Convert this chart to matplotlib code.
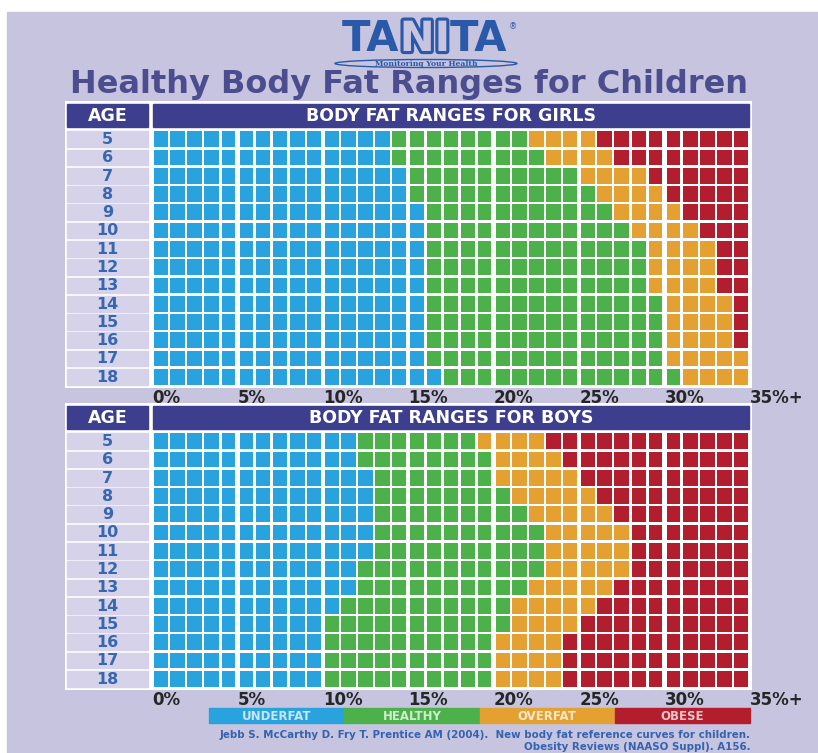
import matplotlib.pyplot as plt
import matplotlib.patheffects as pe
from matplotlib.patches import Rectangle, Ellipse

ages = list(range(5, 19))

# upper edge (% body fat) of each band, one value per age 5..18
girls_underfat = [14, 14, 15, 15, 16, 16, 16, 16, 16, 16, 16, 16, 16, 17]
girls_healthy = [22, 23, 25, 26, 27, 28, 29, 29, 29, 30, 30, 30, 30, 31]
girls_overfat = [26, 27, 29, 30, 31, 32, 33, 33, 33, 34, 34, 34, 35, 35]

boys_underfat = [12, 12, 13, 13, 13, 13, 13, 12, 12, 11, 10, 10, 10, 10]
boys_healthy = [19, 20, 20, 21, 22, 23, 23, 23, 22, 21, 21, 20, 20, 20]
boys_overfat = [23, 24, 25, 26, 27, 28, 28, 28, 27, 26, 25, 24, 24, 24]

max_pct = 35
tick_values = [0, 5, 10, 15, 20, 25, 30, 35]
tick_labels = ['0%', '5%', '10%', '15%', '20%', '25%', '30%', '35%+']

categories = ['UNDERFAT', 'HEALTHY', 'OVERFAT', 'OBESE']
cat_colors = ['#29a3dd', '#4db14b', '#e4a131', '#b31e2e']

LAV = '#c7c4e0'
AGE_BG = '#d5d2ea'
NAVY = '#3d3f8e'
AGE_TXT = '#3767b1'
TITLE = '#4c4d8e'
LOGO = '#2a59a9'

W, H = 818, 753
fig = plt.figure(figsize=(W / 100, H / 100), dpi=100)
fig.patch.set_facecolor('white')

# background layer in pixel units
bg = fig.add_axes([0, 0, 1, 1])
bg.set_xlim(0, W)
bg.set_ylim(H, 0)
bg.axis('off')
bg.add_patch(Rectangle((7, 12), W - 7, H - 12, color=LAV, zorder=0))

# logo: TA + hollow NI + TA
renderer = fig.canvas.get_renderer()
parts = []
for s, hollow in [('TA', False), ('NI', True), ('TA', False)]:
    t = bg.text(0, 39, s, ha='left', va='center', family='DejaVu Sans',
                weight='bold', size=30, color=LOGO)
    if hollow:
        t.set_color(LAV)
        t.set_path_effects([pe.Stroke(linewidth=4.5, foreground=LOGO), pe.Normal()])
    parts.append(t)
widths = [t.get_window_extent(renderer).width for t in parts]
x = 425 - sum(widths) / 2
for t, w in zip(parts, widths):
    t.set_x(x)
    x += w
bg.text(x + 1, 27, '®', size=6, color=LOGO, ha='left', va='center')
bg.add_patch(Ellipse((426, 63.5), 182, 8, fill=False, ec=LOGO, lw=1))
bg.text(426, 63.5, 'Monitoring Your Health', ha='center', va='center',
        family='DejaVu Serif', weight='bold', size=5.5, color=LOGO)

bg.text(409, 84, 'Healthy Body Fat Ranges for Children', ha='center',
        va='center', size=23, weight='bold', color=TITLE)


def draw_panel(top, heading, under, healthy, over):
    ax = fig.add_axes([65 / W, 1 - (top + 287) / H, 687 / W, 287 / H])
    ax.set_xlim(-5.092, 35.118)
    ax.set_ylim(18.609, 2.914)
    ax.set_facecolor('white')
    for s in ax.spines.values():
        s.set_visible(False)
    ax.set_yticks([])
    ax.set_xticks(tick_values, tick_labels)
    ax.tick_params(axis='x', length=0, pad=0.5, labelsize=12, labelcolor='#262626')
    for lbl in ax.get_xticklabels():
        lbl.set_ha('left')
        lbl.set_fontweight('bold')

    # header row
    ax.add_patch(Rectangle((-4.975, 3.078), 4.741, 1.258, color=NAVY))
    ax.add_patch(Rectangle((0.06, 3.078), 34.9, 1.258, color=NAVY))
    ax.text(-2.6, 3.72, 'AGE', ha='center', va='center', color='white',
            weight='bold', size=12.5)
    ax.text(17.5, 3.72, heading, ha='center', va='center', color='white',
            weight='bold', size=12.5)

    for a, u, h, o in zip(ages, under, healthy, over):
        ax.add_patch(Rectangle((-4.975, a - 0.43), 4.741, 0.86, color=AGE_BG))
        ax.text(-2.6, a + 0.02, str(a), ha='center', va='center',
                color=AGE_TXT, weight='bold', size=11.5)
        edges = [u, h, o]
        for i in range(max_pct):
            k = sum(i >= e for e in edges)
            x0 = i + 0.07 + (0.06 if i % 5 == 0 else 0)
            x1 = i + 1 - 0.07 - (0.06 if i % 5 == 4 else 0)
            ax.add_patch(Rectangle((x0, a - 0.43), x1 - x0, 0.86,
                                   color=cat_colors[k], lw=0))
    return ax


draw_panel(101, 'BODY FAT RANGES FOR GIRLS', girls_underfat, girls_healthy, girls_overfat)
draw_panel(403, 'BODY FAT RANGES FOR BOYS', boys_underfat, boys_healthy, boys_overfat)

# colour key
seg = (750 - 209) / len(categories)
for k, (name, c) in enumerate(zip(categories, cat_colors)):
    bg.add_patch(Rectangle((209 + k * seg, 708), seg, 15, color=c))
    bg.text(209 + (k + 0.5) * seg, 716, name, ha='center', va='center',
            color='white', alpha=0.75, weight='bold', size=8.5)

bg.text(750, 735, 'Jebb S. McCarthy D. Fry T. Prentice AM (2004).  '
        'New body fat reference curves for children.', ha='right',
        va='center', size=7.4, color='#3463b0', weight='bold')
bg.text(750, 747, 'Obesity Reviews (NAASO Suppl). A156.', ha='right',
        va='center', size=7.4, color='#3463b0', weight='bold')

fig.savefig('out.png', dpi=100)
